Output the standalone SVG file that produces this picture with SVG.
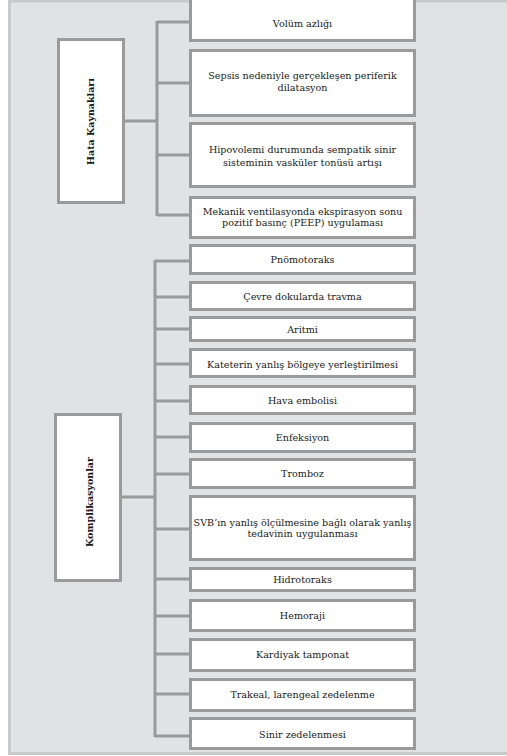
<svg xmlns="http://www.w3.org/2000/svg" width="507" height="756" viewBox="0 0 507 756">
<style>
.box{fill:#ffffff;stroke:#9a9a9a;stroke-width:3}
.conn{fill:none;stroke:#9a9a9a;stroke-width:3}
text{font-family:"DejaVu Serif","Liberation Serif",serif;font-size:9.6px;fill:#1a1a1a;text-anchor:middle}
.side{font-weight:bold;font-size:9.5px}
</style>
<rect x="9.5" y="1" width="500" height="752.5" fill="#e1e2e4" stroke="#c8c9cb" stroke-width="3"/>
<g id="connectors">
<path class="conn" d="M125 121H157M157 21V216M157 22H190M157 83H190M157 155H190M157 215H190"/>
<path class="conn" d="M122 497H155M155 260V737M155 261H190M155 297H190M155 329H190M155 364H190M155 401H190M155 437H190M155 474H190M155 529H190M155 579H190M155 616H190M155 654H190M155 694H190M155 736H190"/>
</g>
<g id="hata">
<rect class="box" x="58.5" y="39.5" width="65" height="163"/>
<text class="side" transform="translate(93.5 121.5) rotate(-90)">Hata Kaynakları</text>
</g>
<g id="komplikasyonlar">
<rect class="box" x="55.5" y="414.5" width="65" height="166"/>
<text class="side" transform="translate(92.5 502) rotate(-90)">Komplikasyonlar</text>
</g>
<g id="n1"><rect class="box" x="190.5" y="-3.5" width="224" height="44"/><text x="302.5" y="27">Volüm azlığı</text></g>
<g id="n2"><rect class="box" x="190.5" y="50.5" width="224" height="65"/><text x="302.5" y="79">Sepsis nedeniyle gerçekleşen periferik</text><text x="302.5" y="91">dilatasyon</text></g>
<g id="n3"><rect class="box" x="190.5" y="123.5" width="224" height="63"/><text x="302.5" y="153">Hipovolemi durumunda sempatik sinir</text><text x="302.5" y="166">sisteminin vasküler tonüsü artışı</text></g>
<g id="n4"><rect class="box" x="190.5" y="197.5" width="224" height="40"/><text x="302.5" y="215">Mekanik ventilasyonda ekspirasyon sonu</text><text x="302.5" y="226">pozitif basınç (PEEP) uygulaması</text></g>
<g id="c1"><rect class="box" x="190.5" y="245.5" width="224" height="28"/><text x="302.5" y="263">Pnömotoraks</text></g>
<g id="c2"><rect class="box" x="190.5" y="282.5" width="224" height="27"/><text x="302.5" y="300">Çevre dokularda travma</text></g>
<g id="c3"><rect class="box" x="190.5" y="317.5" width="224" height="23"/><text x="302.5" y="333">Aritmi</text></g>
<g id="c4"><rect class="box" x="190.5" y="349.5" width="224" height="27"/><text x="302.5" y="368">Kateterin yanlış bölgeye yerleştirilmesi</text></g>
<g id="c5"><rect class="box" x="190.5" y="386.5" width="224" height="27"/><text x="302.5" y="404">Hava embolisi</text></g>
<g id="c6"><rect class="box" x="190.5" y="423.5" width="224" height="28"/><text x="302.5" y="441">Enfeksiyon</text></g>
<g id="c7"><rect class="box" x="190.5" y="459.5" width="224" height="28"/><text x="302.5" y="477">Tromboz</text></g>
<g id="c8"><rect class="box" x="190.5" y="496.5" width="224" height="63"/><text x="302.5" y="526">SVB’ın yanlış ölçülmesine bağlı olarak yanlış</text><text x="302.5" y="537">tedavinin uygulanması</text></g>
<g id="c9"><rect class="box" x="190.5" y="568.5" width="224" height="22"/><text x="302.5" y="583">Hidrotoraks</text></g>
<g id="c10"><rect class="box" x="190.5" y="600.5" width="224" height="30"/><text x="302.5" y="619">Hemoraji</text></g>
<g id="c11"><rect class="box" x="190.5" y="639.5" width="224" height="31"/><text x="302.5" y="658">Kardiyak tamponat</text></g>
<g id="c12"><rect class="box" x="190.5" y="679.5" width="224" height="31"/><text x="302.5" y="698">Trakeal, larengeal zedelenme</text></g>
<g id="c13"><rect class="box" x="190.5" y="718.5" width="224" height="30"/><text x="302.5" y="738">Sinir zedelenmesi</text></g>
</svg>
